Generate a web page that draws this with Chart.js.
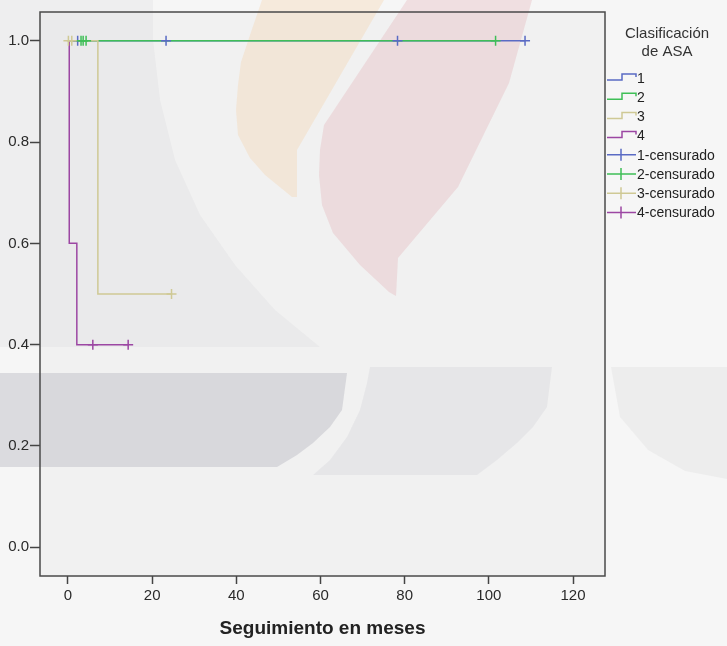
<!DOCTYPE html>
<html>
<head>
<meta charset="utf-8">
<script src="https://cdn.jsdelivr.net/npm/chart.js@4.4.0/dist/chart.umd.min.js"></script>
<style>
  html, body { margin: 0; padding: 0; background: #f6f6f6; }
  #wrap { width: 727px; height: 646px; }
</style>
</head>
<body>
<div id="wrap"><canvas id="km" width="727" height="646"></canvas></div>
<script>
// Datos (Kaplan-Meier por clasificación ASA)
const xTicks = [0, 20, 40, 60, 80, 100, 120];
const yTicks = [0.0, 0.2, 0.4, 0.6, 0.8, 1.0];

const groupLabels = ['1', '2', '3', '4'];
const censorLabels = ['1-censurado', '2-censurado', '3-censurado', '4-censurado'];
const groupColors = ['#5a6bc4', '#3fbf57', '#cfc995', '#9c47a3'];

// curvas de supervivencia (tiempo en meses, supervivencia acumulada)
const g1Times = [0, 108.6];
const g1Surv = [1, 1];
const g2Times = [0, 101.6];
const g2Surv = [1, 1];
const g3Times = [0, 7.1, 24.6];
const g3Surv = [1, 0.5, 0.5];
const g4Times = [0, 0.3, 2.1, 14.3];
const g4Surv = [1, 0.6, 0.4, 0.4];

// casos censurados
const c1Times = [2.3, 23.3, 78.3, 108.6];
const c1Surv = [1, 1, 1, 1];
const c2Times = [3.1, 3.6, 4.3, 101.6];
const c2Surv = [1, 1, 1, 1];
const c3Times = [0.1, 0.9, 24.6];
const c3Surv = [1, 1, 0.5];
const c4Times = [5.9, 14.3];
const c4Surv = [0.4, 0.4];

const curves = [[g1Times, g1Surv], [g2Times, g2Surv], [g3Times, g3Surv], [g4Times, g4Surv]];
const censored = [[c1Times, c1Surv], [c2Times, c2Surv], [c3Times, c3Surv], [c4Times, c4Surv]];

function toPoints(times, surv) {
    return times.map((t, i) => ({ x: t, y: surv[i] }));
}

const datasets = [];
curves.forEach((c, i) => {
    datasets.push({
        label: groupLabels[i],
        data: toPoints(c[0], c[1]),
        borderColor: groupColors[i],
        borderWidth: 1.5,
        stepped: 'before',
        pointRadius: 0,
        fill: false,
        order: 10 - i
    });
});
censored.forEach((c, i) => {
    datasets.push({
        label: censorLabels[i],
        data: toPoints(c[0], c[1]),
        borderColor: groupColors[i],
        backgroundColor: groupColors[i],
        showLine: false,
        pointStyle: 'cross',
        pointRadius: 5,
        pointBorderWidth: 1.5,
        order: 4 - i
    });
});

const FONT = "'Liberation Sans', Arial, sans-serif";

// marca de agua del fondo (aproximada)
const watermark = [
    { color: 'rgba(150,150,165,0.08)', pts: [[0,0],[153,0],[153,40],[160,100],[175,160],[200,215],[235,265],[275,310],[320,347],[0,347]] },
    { color: 'rgba(245,205,160,0.30)', pts: [[262,0],[384,0],[297,150],[297,197],[292,197],[265,175],[250,158],[238,135],[236,110],[238,85],[241,62],[250,35]] },
    { color: 'rgba(220,140,150,0.22)', pts: [[407,0],[532,0],[509,83],[458,187],[398,258],[396,296],[389,292],[360,265],[333,233],[322,205],[319,175],[320,150],[324,125]] },
    { color: 'rgba(150,150,165,0.28)', pts: [[0,373],[347,373],[342,410],[330,427],[313,443],[297,455],[277,467],[0,467]] },
    { color: 'rgba(150,150,160,0.11)', pts: [[370,367],[552,367],[547,407],[533,427],[517,443],[497,460],[477,475],[313,475],[330,460],[347,437],[360,410],[367,383]] },
    { color: 'rgba(150,150,160,0.09)', pts: [[611,367],[727,367],[727,479],[685,471],[648,450],[620,417]] }
];

const kmPlugin = {
    id: 'kmPlugin',
    beforeDraw(chart) {
        const ctx = chart.ctx;
        const a = chart.chartArea;
        ctx.save();
        ctx.fillStyle = '#f6f6f6';
        ctx.fillRect(0, 0, chart.width, chart.height);
        ctx.fillStyle = '#f1f1f1';
        ctx.fillRect(a.left, a.top, a.right - a.left, a.bottom - a.top);
        watermark.forEach(s => {
            ctx.fillStyle = s.color;
            ctx.beginPath();
            s.pts.forEach((p, i) => i ? ctx.lineTo(p[0], p[1]) : ctx.moveTo(p[0], p[1]));
            ctx.closePath();
            ctx.fill();
        });
        ctx.restore();
    },
    afterDraw(chart) {
        const ctx = chart.ctx;
        const a = chart.chartArea;
        ctx.save();
        // marco
        ctx.strokeStyle = '#4a4a4a';
        ctx.lineWidth = 1.5;
        ctx.strokeRect(a.left, a.top, a.right - a.left, a.bottom - a.top);

        // título eje x
        ctx.fillStyle = '#222';
        ctx.font = 'bold 19px ' + FONT;
        ctx.textAlign = 'center';
        ctx.textBaseline = 'middle';
        ctx.fillText('Seguimiento en meses', (a.left + a.right) / 2, 629);

        // leyenda
        const lx = 607;
        ctx.fillStyle = '#333';
        ctx.font = '15px ' + FONT;
        ctx.fillText('Clasificación', 667, 34);
        ctx.fillText('de ASA', 667, 52);
        ctx.font = '14px ' + FONT;
        ctx.textAlign = 'left';
        const step = 19.2;
        for (let i = 0; i < 4; i++) {
            const y = 78 + i * step;
            ctx.strokeStyle = groupColors[i];
            ctx.lineWidth = 1.5;
            ctx.beginPath();
            ctx.moveTo(lx, y + 2);
            ctx.lineTo(lx + 15, y + 2);
            ctx.lineTo(lx + 15, y - 4);
            ctx.lineTo(lx + 29, y - 4);
            ctx.lineTo(lx + 29, y - 1);
            ctx.stroke();
            ctx.fillStyle = '#222';
            ctx.fillText(groupLabels[i], lx + 30, y + 1);
        }
        for (let i = 0; i < 4; i++) {
            const y = 78 + (i + 4) * step;
            ctx.strokeStyle = groupColors[i];
            ctx.lineWidth = 1.5;
            ctx.beginPath();
            ctx.moveTo(lx, y);
            ctx.lineTo(lx + 29, y);
            ctx.moveTo(lx + 14, y - 6);
            ctx.lineTo(lx + 14, y + 6);
            ctx.stroke();
            ctx.fillStyle = '#222';
            ctx.fillText(censorLabels[i], lx + 30, y + 1);
        }
        ctx.restore();
    }
};

new Chart(document.getElementById('km'), {
    type: 'line',
    data: { datasets: datasets },
    options: {
        responsive: false,
        animation: false,
        events: [],
        layout: { padding: { top: 12, right: 122, bottom: 0, left: 0 } },
        plugins: { legend: { display: false }, tooltip: { enabled: false } },
        scales: {
            x: {
                type: 'linear',
                min: -6.65,
                max: 127.6,
                afterBuildTicks: axis => { axis.ticks = xTicks.map(v => ({ value: v })); },
                afterFit: axis => { axis.height = 70; },
                grid: { display: true, drawOnChartArea: false, drawTicks: true, tickLength: 8, tickColor: '#444', tickWidth: 1.5 },
                border: { display: false },
                ticks: { color: '#2a2a2a', font: { family: FONT, size: 15 }, padding: 3, maxRotation: 0, autoSkip: false }
            },
            y: {
                type: 'linear',
                min: -0.057,
                max: 1.057,
                afterBuildTicks: axis => { axis.ticks = yTicks.map(v => ({ value: v })); },
                afterFit: axis => { axis.width = 40; },
                grid: { display: true, drawOnChartArea: false, drawTicks: true, tickLength: 10, tickColor: '#444', tickWidth: 1.5 },
                border: { display: false },
                ticks: { color: '#2a2a2a', font: { family: FONT, size: 15 }, padding: 1, callback: v => v.toFixed(1) }
            }
        }
    },
    plugins: [kmPlugin]
});
</script>
</body>
</html>
